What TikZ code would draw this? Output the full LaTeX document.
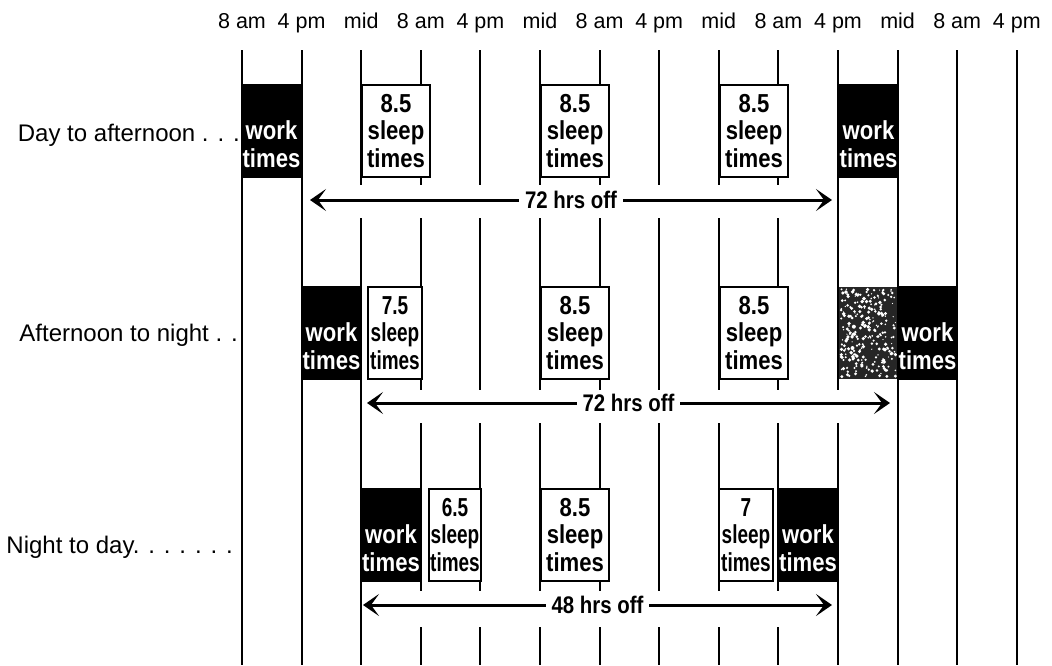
\documentclass[tikz,border=0pt]{standalone}
\usepackage{fontspec}
\setmainfont{Liberation Sans}
\newfontfamily\boxfont[FakeStretch=0.85]{Liberation Sans}
\newfontfamily\narrowfont[FakeStretch=0.73]{Liberation Sans}
\usetikzlibrary{arrows.meta}
\begin{document}
\begin{tikzpicture}[x=1pt,y=-1pt,
  vline/.style={line width=2pt},
  toplabel/.style={font=\fontsize{21.5}{24}\selectfont, anchor=base, inner sep=0pt},
  rowlabel/.style={font=\fontsize{24}{28}\selectfont, anchor=base east, inner sep=0pt},
  boxbase/.style={draw, line width=2.4pt, minimum height=92pt, inner sep=0pt, align=center},
  sleepbox/.style={boxbase, fill=white, font=\boxfont\bfseries\fontsize{26}{27.5}\selectfont},
  narrowsleep/.style={boxbase, fill=white, font=\narrowfont\bfseries\fontsize{26}{27.5}\selectfont},
  workbox/.style={boxbase, fill=black, text=white, font=\boxfont\bfseries\fontsize{26}{27.5}\selectfont},
  mottled/.style={draw=none, fill=black!85, minimum height=92pt, inner sep=0pt},
  speck/.style={fill=white},
  offarrow/.style={line width=3pt, {Stealth[length=16pt,width=22pt,inset=8pt]}-{Stealth[length=16pt,width=22pt,inset=8pt]}},
  offlabel/.style={fill=white, inner xsep=6pt, inner ysep=2pt, font=\boxfont\bfseries\fontsize{24}{26}\selectfont}
]
\useasboundingbox (0,0) rectangle (1052,665);

% vertical time lines
\foreach \i in {0,1,11,12,13}{
  \pgfmathsetmacro\xx{242+59.6*\i}
  \draw[vline] (\xx,50) -- (\xx,665);
}
\draw[vline] (361.2,50) -- (361.2,185) (361.2,218) -- (361.2,665);
\foreach \i in {3,...,9}{
  \pgfmathsetmacro\xx{242+59.6*\i}
  \draw[vline] (\xx,50) -- (\xx,185) (\xx,218) -- (\xx,390) (\xx,423) -- (\xx,591) (\xx,627) -- (\xx,665);
}
\draw[vline] (838,50) -- (838,390) (838,423) -- (838,665);

% top time labels
\foreach \i/\t in {0/8 am,1/4 pm,2/mid,3/8 am,4/4 pm,5/mid,6/8 am,7/4 pm,8/mid,9/8 am,10/4 pm,11/mid,12/8 am,13/4 pm}{
  \node[toplabel] (t\i) at ({242+59.6*\i},28) {\t};
}

% row labels
\node[rowlabel] (r1) at (240,141) {Day to afternoon . . .};
\node[rowlabel] (r2) at (238,341) {Afternoon to night . .};
\node[rowlabel] (r3) at (233,553) {Night to day. . . . . . .};

% row 1
\node[workbox, minimum width=59pt] (w1a) at (271.5,131) {\vphantom{8.5}\\work\\times};
\node[sleepbox, minimum width=68pt] (s1a) at (396,131) {8.5\\sleep\\times};
\node[sleepbox, minimum width=68pt] (s1b) at (575,131) {8.5\\sleep\\times};
\node[sleepbox, minimum width=68pt] (s1c) at (754,131) {8.5\\sleep\\times};
\node[workbox, minimum width=59pt] (w1b) at (868.5,131) {\vphantom{8.5}\\work\\times};

% row 2
\node[workbox, minimum width=59pt] (w2a) at (331.5,333) {\vphantom{8.5}\\work\\times};
\node[narrowsleep, minimum width=54pt] (s2a) at (395,333) {7.5\\sleep\\times};
\node[sleepbox, minimum width=68pt] (s2b) at (575,333) {8.5\\sleep\\times};
\node[sleepbox, minimum width=68pt] (s2c) at (754,333) {8.5\\sleep\\times};
\node[mottled, minimum width=59pt] (m2) at (868.5,333) {};
\pgfmathsetseed{11}
\foreach \k in {1,...,260}{
  \fill[speck] ({841+55*rnd},{289+88*rnd}) circle ({0.6+1.4*rnd});
}
\node[workbox, minimum width=59pt] (w2b) at (927.5,333) {\vphantom{8.5}\\work\\times};

% row 3
\node[workbox, minimum width=60pt] (w3a) at (391,535) {\vphantom{8.5}\\work\\times};
\node[narrowsleep, minimum width=52pt] (s3a) at (455,535) {6.5\\sleep\\times};
\node[sleepbox, minimum width=68pt] (s3b) at (575,535) {8.5\\sleep\\times};
\node[narrowsleep, minimum width=54pt] (s3c) at (746,535) {7\\sleep\\times};
\node[workbox, minimum width=60pt] (w3b) at (808,535) {\vphantom{8.5}\\work\\times};

% hours-off arrows
\coordinate (a1l) at (310,200); \coordinate (a1r) at (832,200);
\coordinate (a2l) at (367,403); \coordinate (a2r) at (890,403);
\coordinate (a3l) at (363,605); \coordinate (a3r) at (832,605);
\draw[offarrow] (a1l) -- (a1r) node[offlabel, midway] (h1) {72 hrs off};
\draw[offarrow] (a2l) -- (a2r) node[offlabel, midway] (h2) {72 hrs off};
\draw[offarrow] (a3l) -- (a3r) node[offlabel, midway] (h3) {48 hrs off};
\end{tikzpicture}
\end{document}
